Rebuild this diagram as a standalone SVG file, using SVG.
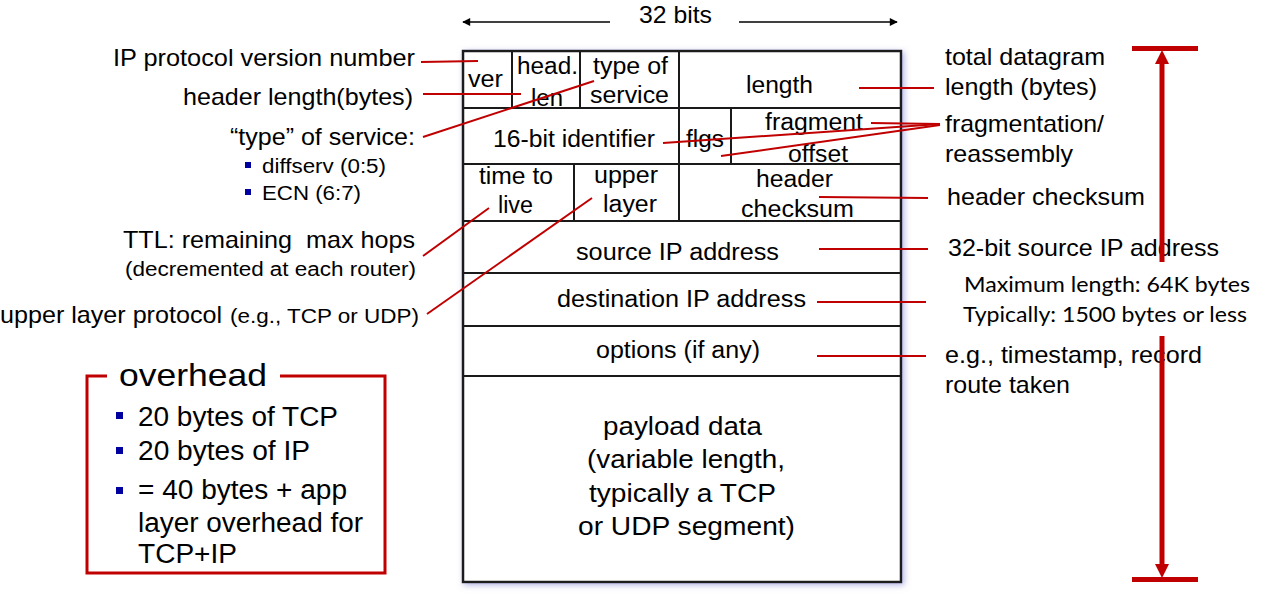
<svg xmlns="http://www.w3.org/2000/svg" width="1280" height="609" viewBox="0 0 1280 609">
<style>
text{font-family:"Liberation Sans",Arial,sans-serif;fill:#000}
.b{font-size:23px}
.p{font-size:26px}
.l{font-size:24px}
.s{font-size:20px}
.c{font-family:Lato,"Noto Sans",sans-serif;font-size:21px}
.o{font-size:27px}
.cell{fill:none;stroke:#1a1a1a;stroke-width:2}
.red{stroke:#c00000;stroke-width:2;fill:none}
.bul{fill:#0000a0}
</style>
<defs>
<marker id="ah" viewBox="0 0 10 10" refX="9" refY="5" markerWidth="10" markerHeight="8" markerUnits="userSpaceOnUse" orient="auto-start-reverse">
<path d="M0,0 L10,5 L0,10 z" fill="#000"/>
</marker>
<filter id="sh" x="-5%" y="-5%" width="110%" height="110%">
<feDropShadow dx="2" dy="2" stdDeviation="3" flood-color="#8080d0" flood-opacity="0.6"/>
</filter>
</defs>
<rect width="1280" height="609" fill="#fff"/>

<g id="width-arrow">
<line x1="463" y1="22" x2="610" y2="22" stroke="#000" stroke-width="1.6" marker-start="url(#ah)"/>
<line x1="739" y1="22" x2="897" y2="22" stroke="#000" stroke-width="1.6" marker-end="url(#ah)"/>
<text class="l" x="639" y="23" textLength="73" lengthAdjust="spacingAndGlyphs">32 bits</text>
</g>

<g id="datagram">
<rect x="463" y="51" width="438" height="531" fill="#fff" stroke="#1a1a1a" stroke-width="2.5" filter="url(#sh)"/>
<line class="cell" x1="463" y1="108" x2="901" y2="108"/>
<line class="cell" x1="463" y1="164" x2="901" y2="164"/>
<line class="cell" x1="463" y1="221" x2="901" y2="221"/>
<line class="cell" x1="463" y1="273" x2="901" y2="273"/>
<line class="cell" x1="463" y1="326" x2="901" y2="326"/>
<line class="cell" x1="463" y1="376" x2="901" y2="376"/>
<line class="cell" x1="512" y1="51" x2="512" y2="108"/>
<line class="cell" x1="580" y1="51" x2="580" y2="108"/>
<line class="cell" x1="679" y1="51" x2="679" y2="221"/>
<line class="cell" x1="731" y1="108" x2="731" y2="164"/>
<line class="cell" x1="574" y1="164" x2="574" y2="221"/>
</g>

<g id="f-ver"><text class="b" x="468" y="87" textLength="35" lengthAdjust="spacingAndGlyphs">ver</text></g>
<g id="f-hlen"><text class="b" x="517" y="74" textLength="61" lengthAdjust="spacingAndGlyphs">head.</text><text class="b" x="531" y="106" textLength="32" lengthAdjust="spacingAndGlyphs">len</text></g>
<g id="f-tos"><text class="b" x="593" y="74" textLength="75" lengthAdjust="spacingAndGlyphs">type of</text><text class="b" x="590" y="103" textLength="79" lengthAdjust="spacingAndGlyphs">service</text></g>
<g id="f-length"><text class="b" x="746" y="93" textLength="67" lengthAdjust="spacingAndGlyphs">length</text></g>
<g id="f-id"><text class="b" x="493" y="147" textLength="162" lengthAdjust="spacingAndGlyphs">16-bit identifier</text></g>
<g id="f-flgs"><text class="b" x="686" y="147" textLength="38" lengthAdjust="spacingAndGlyphs">flgs</text></g>
<g id="f-frag"><text class="b" x="765" y="130" textLength="98" lengthAdjust="spacingAndGlyphs">fragment</text><text class="b" x="788" y="162" textLength="60" lengthAdjust="spacingAndGlyphs">offset</text></g>
<g id="f-ttl"><text class="b" x="479" y="184" textLength="74" lengthAdjust="spacingAndGlyphs">time to</text><text class="b" x="498" y="213" textLength="35" lengthAdjust="spacingAndGlyphs">live</text></g>
<g id="f-upper"><text class="b" x="594" y="183" textLength="64" lengthAdjust="spacingAndGlyphs">upper</text><text class="b" x="603" y="212" textLength="54" lengthAdjust="spacingAndGlyphs">layer</text></g>
<g id="f-cksum"><text class="b" x="756" y="187" textLength="77" lengthAdjust="spacingAndGlyphs">header</text><text class="b" x="741" y="217" textLength="113" lengthAdjust="spacingAndGlyphs">checksum</text></g>
<g id="f-src"><text class="b" x="576" y="260" textLength="203" lengthAdjust="spacingAndGlyphs">source IP address</text></g>
<g id="f-dst"><text class="b" x="557" y="307" textLength="249" lengthAdjust="spacingAndGlyphs">destination IP address</text></g>
<g id="f-opt"><text class="b" x="596" y="358" textLength="164" lengthAdjust="spacingAndGlyphs">options (if any)</text></g>
<g id="f-payload">
<text class="p" x="603" y="435" textLength="159" lengthAdjust="spacingAndGlyphs">payload data</text>
<text class="p" x="587" y="468" textLength="198" lengthAdjust="spacingAndGlyphs">(variable length,</text>
<text class="p" x="589" y="502" textLength="187" lengthAdjust="spacingAndGlyphs">typically a TCP</text>
<text class="p" x="578" y="535" textLength="217" lengthAdjust="spacingAndGlyphs">or UDP segment)</text>
</g>

<g id="left-labels">
<text class="l" x="113" y="66" textLength="302" lengthAdjust="spacingAndGlyphs">IP protocol version number</text>
<text class="l" x="183" y="105" textLength="230" lengthAdjust="spacingAndGlyphs">header length(bytes)</text>
<text class="l" x="230" y="145" textLength="185" lengthAdjust="spacingAndGlyphs">“type” of service:</text>
<rect class="bul" x="245" y="162" width="6" height="6"/>
<text class="s" x="262" y="173" textLength="124" lengthAdjust="spacingAndGlyphs">diffserv (0:5)</text>
<rect class="bul" x="245" y="189" width="6" height="6"/>
<text class="s" x="262" y="200" textLength="99" lengthAdjust="spacingAndGlyphs">ECN (6:7)</text>
<text class="l" x="123" y="248" textLength="292" lengthAdjust="spacingAndGlyphs" style="white-space:pre" xml:space="preserve">TTL: remaining  max hops</text>
<text class="s" x="125" y="276" textLength="291" lengthAdjust="spacingAndGlyphs">(decremented at each router)</text>
<text class="l" x="0" y="323" textLength="222" lengthAdjust="spacingAndGlyphs">upper layer protocol</text>
<text class="s" x="230" y="323" textLength="189" lengthAdjust="spacingAndGlyphs">(e.g., TCP or UDP)</text>
</g>

<g id="right-labels">
<text class="l" x="945" y="65" textLength="160" lengthAdjust="spacingAndGlyphs">total datagram</text>
<text class="l" x="945" y="95" textLength="152" lengthAdjust="spacingAndGlyphs">length (bytes)</text>
<text class="l" x="945" y="132" textLength="159" lengthAdjust="spacingAndGlyphs">fragmentation/</text>
<text class="l" x="945" y="162" textLength="128" lengthAdjust="spacingAndGlyphs">reassembly</text>
<text class="l" x="947" y="205" textLength="198" lengthAdjust="spacingAndGlyphs">header checksum</text>
<text class="l" x="948" y="256" textLength="271" lengthAdjust="spacingAndGlyphs">32-bit source IP address</text>
<text class="c" x="964" y="292" textLength="286" lengthAdjust="spacingAndGlyphs">Maximum length: 64K bytes</text>
<text class="c" x="963" y="322" textLength="284" lengthAdjust="spacingAndGlyphs">Typically: 1500 bytes or less</text>
<text class="l" x="945" y="363" textLength="257" lengthAdjust="spacingAndGlyphs">e.g., timestamp, record</text>
<text class="l" x="945" y="393" textLength="125" lengthAdjust="spacingAndGlyphs">route taken</text>
</g>

<g id="max-length-arrow" fill="#c00000">
<rect x="1132" y="46" width="66" height="5"/>
<rect x="1132" y="577" width="66" height="5"/>
<rect x="1159.5" y="60" width="5" height="202"/>
<rect x="1159.5" y="336" width="5" height="233"/>
<path d="M1162,50 L1155,64 L1169,64 z"/>
<path d="M1162,578 L1155,564 L1169,564 z"/>
</g>

<g id="overhead">
<path d="M107,376 L87,376 L87,573 L385,573 L385,376 L280,376" fill="none" stroke="#c00000" stroke-width="3"/>
<text x="119" y="386" font-size="32" textLength="148" lengthAdjust="spacingAndGlyphs">overhead</text>
<rect class="bul" x="116" y="412" width="7" height="7"/>
<text class="o" x="138" y="426" textLength="200" lengthAdjust="spacingAndGlyphs">20 bytes of TCP</text>
<rect class="bul" x="116" y="447" width="7" height="7"/>
<text class="o" x="138" y="460" textLength="172" lengthAdjust="spacingAndGlyphs">20 bytes of IP</text>
<rect class="bul" x="116" y="487" width="7" height="7"/>
<text class="o" x="138" y="499" textLength="209" lengthAdjust="spacingAndGlyphs">= 40 bytes + app</text>
<text class="o" x="138" y="532" textLength="225" lengthAdjust="spacingAndGlyphs">layer overhead for</text>
<text class="o" x="138" y="563" textLength="99" lengthAdjust="spacingAndGlyphs">TCP+IP</text>
</g>

<g id="connectors">
<line class="red" x1="421" y1="62" x2="478" y2="61"/>
<line class="red" x1="423" y1="94" x2="521" y2="94"/>
<line class="red" x1="423" y1="137" x2="594" y2="81"/>
<line class="red" x1="859" y1="88" x2="934" y2="88"/>
<line class="red" x1="871" y1="123" x2="940" y2="124"/>
<line class="red" x1="663" y1="143" x2="940" y2="124"/>
<line class="red" x1="721" y1="156" x2="940" y2="125"/>
<line class="red" x1="819" y1="197" x2="928" y2="198"/>
<line class="red" x1="489" y1="208" x2="423" y2="256"/>
<line class="red" x1="592" y1="198" x2="427" y2="314"/>
<line class="red" x1="819" y1="249" x2="928" y2="249"/>
<line class="red" x1="817" y1="302" x2="926" y2="302"/>
<line class="red" x1="817" y1="356" x2="926" y2="356"/>
</g>
</svg>
